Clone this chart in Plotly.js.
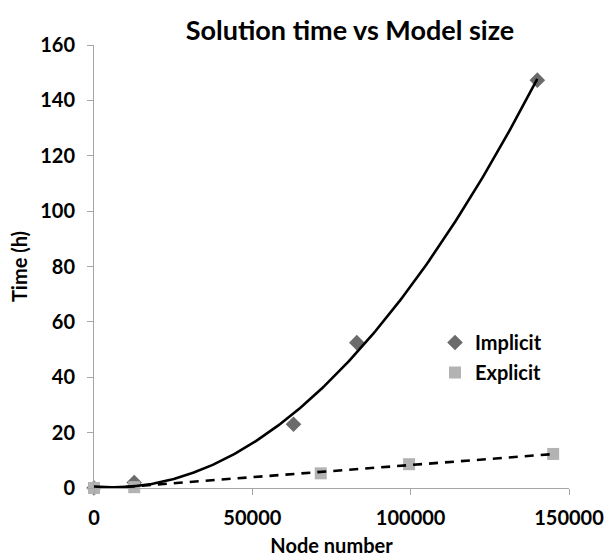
<!DOCTYPE html>
<html>
<head>
<meta charset="utf-8">
<script src="https://cdn.plot.ly/plotly-3.0.1.min.js"></script>
<style>html,body{margin:0;padding:0;background:#fff;}#chart{width:606px;height:558px;}</style>
</head>
<body>
<div id="chart"></div>
<script>
// Data
const implicitNodes = [0, 12700, 63000, 83000, 140000];
const implicitTime  = [0, 2, 23, 52.5, 147.3];
const explicitNodes = [0, 12700, 71600, 99500, 145000];
const explicitTime  = [0, 0.3, 5.3, 8.6, 12.3];
const xTicks = [0, 50000, 100000, 150000];
const yTicks = [0, 20, 40, 60, 80, 100, 120, 140, 160];

// Least squares polynomial fit (trendlines, as in the spreadsheet source)
function polyfit(xs, ys, deg) {
  const n = deg + 1;
  const A = Array.from({length: n}, () => new Array(n + 1).fill(0));
  for (let k = 0; k < xs.length; k++) {
    const x = xs[k] / 1e4, y = ys[k];
    for (let i = 0; i < n; i++) {
      for (let j = 0; j < n; j++) A[i][j] += Math.pow(x, i + j);
      A[i][n] += y * Math.pow(x, i);
    }
  }
  for (let i = 0; i < n; i++) {
    let p = i;
    for (let r = i + 1; r < n; r++) if (Math.abs(A[r][i]) > Math.abs(A[p][i])) p = r;
    [A[i], A[p]] = [A[p], A[i]];
    for (let r = 0; r < n; r++) {
      if (r === i) continue;
      const f = A[r][i] / A[i][i];
      for (let c = i; c <= n; c++) A[r][c] -= f * A[i][c];
    }
  }
  const coef = A.map((row, i) => row[n] / row[i]);
  return x => coef.reduce((s, c, i) => s + c * Math.pow(x / 1e4, i), 0);
}
function curve(f, x0, x1, steps) {
  const xs = [], ys = [];
  for (let i = 0; i <= steps; i++) { const x = x0 + (x1 - x0) * i / steps; xs.push(x); ys.push(f(x)); }
  return {xs, ys};
}
const fImp = polyfit(implicitNodes, implicitTime, 2);
const fExp = polyfit(explicitNodes, explicitTime, 1);
const cImp = curve(fImp, Math.min(...implicitNodes), Math.max(...implicitNodes), 200);
const cExp = curve(fExp, Math.min(...explicitNodes), Math.max(...explicitNodes), 50);

const FONT = 'Lato, "Open Sans", sans-serif';
const FS = 20;
const traces = [
  {x: implicitNodes, y: implicitTime, name: '<b>Implicit</b>', type: 'scatter', mode: 'markers',
   legendgroup: 'a', marker: {symbol: 'diamond', size: 12, color: '#6b6b6b'}, cliponaxis: false},
  {x: explicitNodes, y: explicitTime, name: '<b>Explicit</b>', type: 'scatter', mode: 'markers',
   legendgroup: 'b', marker: {symbol: 'square', size: 12, color: '#b3b3b3'}, cliponaxis: false},
  {x: cImp.xs, y: cImp.ys, type: 'scatter', mode: 'lines', showlegend: false, hoverinfo: 'skip',
   line: {color: '#000', width: 2.6}, cliponaxis: false},
  {x: cExp.xs, y: cExp.ys, type: 'scatter', mode: 'lines', showlegend: false, hoverinfo: 'skip',
   line: {color: '#000', width: 2.6, dash: '9px,7px'}, cliponaxis: false}
];

const L = 94, R = 37, T = 45, B = 70, W = 606 - L - R;
const layout = {
  width: 606, height: 558,
  margin: {l: L, r: R, t: T, b: B, pad: 0},
  paper_bgcolor: '#fff', plot_bgcolor: '#fff',
  font: {family: FONT, color: '#000', size: FS},
  title: {text: '<b>Solution time vs Model size</b>', font: {size: 27, family: FONT},
          xref: 'paper', x: (350 - L) / W, xanchor: 'center',
          yref: 'container', y: 1 - 31 / 558, yanchor: 'middle'},
  xaxis: {range: [0, 150000], tickvals: xTicks, ticktext: xTicks.map(v => '<b>' + v + '</b>'),
          showgrid: false, zeroline: false, showline: true, linecolor: '#a6a6a6', linewidth: 1,
          ticks: 'outside', ticklen: 6, tickcolor: '#a6a6a6', tickfont: {size: FS, family: FONT},
          ticklabelstandoff: 6,
          title: {text: '<b>Node number</b>', font: {size: FS, family: FONT}, standoff: 10}},
  yaxis: {range: [0, 160], tickvals: yTicks, ticktext: yTicks.map(v => '<b>' + v + '</b>'),
          showgrid: false, zeroline: false, showline: true, linecolor: '#a6a6a6', linewidth: 1,
          ticks: 'outside', ticklen: 6, tickcolor: '#a6a6a6', tickfont: {size: FS, family: FONT},
          ticklabelstandoff: 8,
          title: {text: '<b>Time (h)</b>', font: {size: FS, family: FONT}, standoff: 7}},
  showlegend: true,
  legend: {x: (435 - L) / W, xanchor: 'left', y: 1 - (323 - T) / (558 - T - B), yanchor: 'top',
           bgcolor: 'rgba(0,0,0,0)', font: {size: FS, family: FONT},
           traceorder: 'grouped', tracegroupgap: 1, itemwidth: 30}
};

Plotly.newPlot('chart', traces, layout, {displayModeBar: false, staticPlot: true});
</script>
</body>
</html>
